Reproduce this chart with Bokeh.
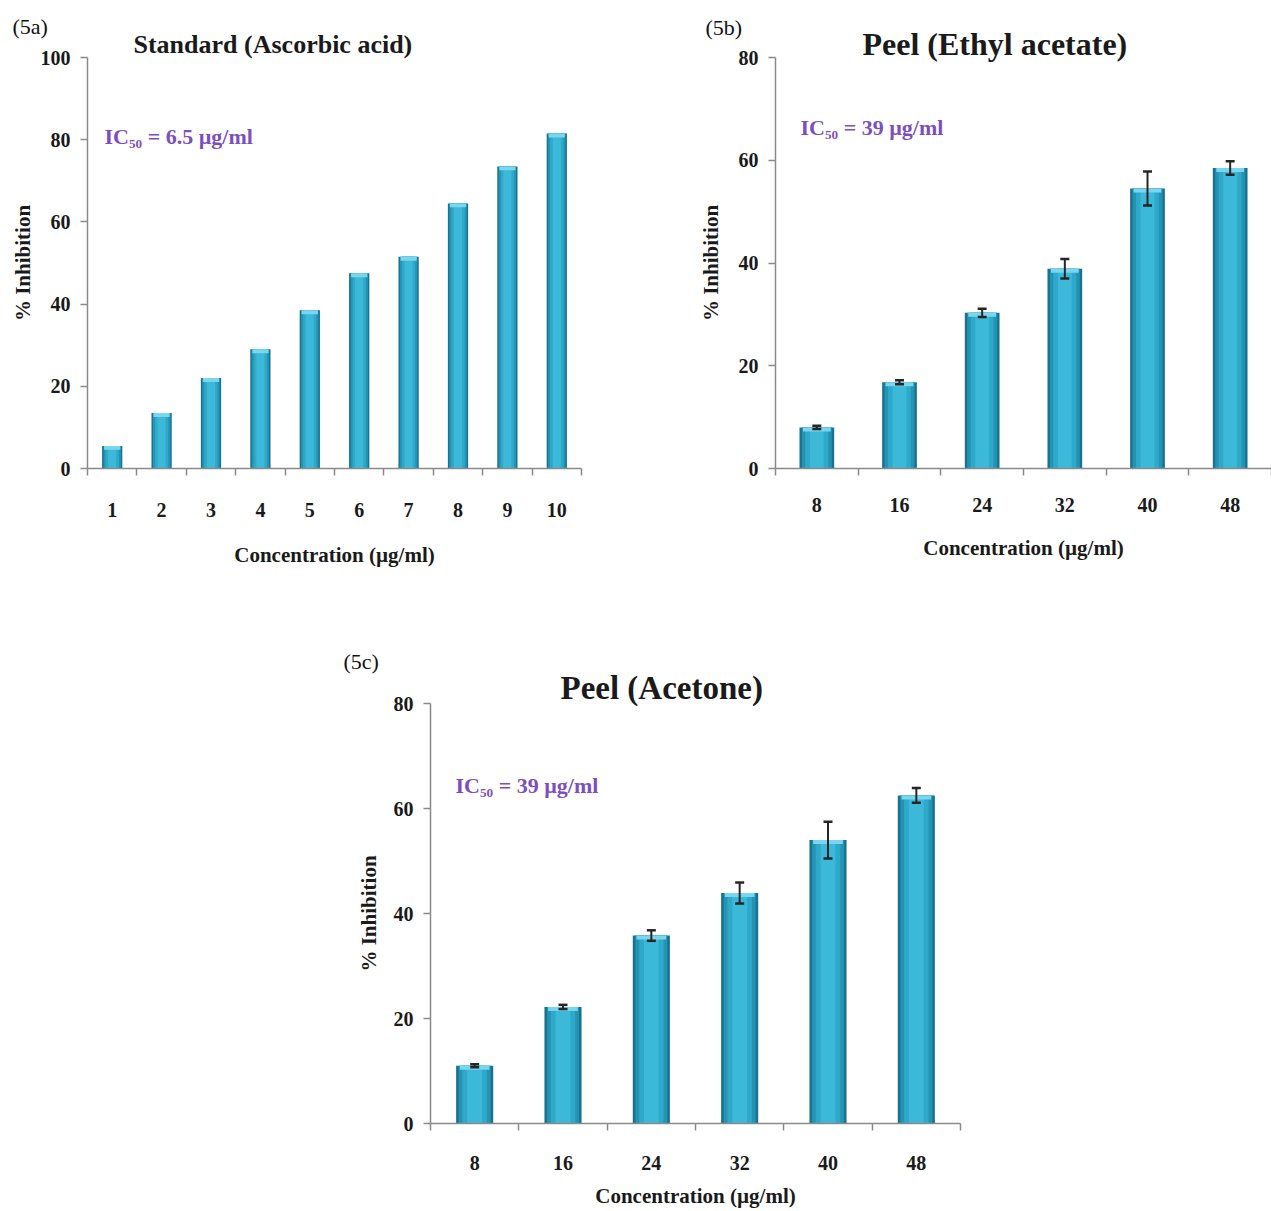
from bokeh.plotting import figure
from bokeh.models import ColumnDataSource, Whisker, TeeHead, FixedTicker, Label, Range1d, Spacer, Title
from bokeh.layouts import row, column
from bokeh.embed import file_html
from bokeh.resources import INLINE

# ---------------- data ----------------
conc_a = [1, 2, 3, 4, 5, 6, 7, 8, 9, 10]
inhib_a = [5.5, 13.5, 22.0, 29.0, 38.5, 47.5, 51.5, 64.5, 73.5, 81.5]

conc_b = [8, 16, 24, 32, 40, 48]
inhib_b = [8.0, 16.8, 30.3, 38.9, 54.5, 58.5]
err_b = [0.3, 0.4, 0.8, 1.9, 3.3, 1.3]

conc_c = [8, 16, 24, 32, 40, 48]
inhib_c = [11.0, 22.2, 35.8, 43.9, 54.0, 62.5]
err_c = [0.3, 0.4, 1.0, 2.0, 3.5, 1.4]

yticks_a = [0, 20, 40, 60, 80, 100]
yticks_bc = [0, 20, 40, 60, 80]

title_a = "Standard (Ascorbic acid)"
title_b = "Peel (Ethyl acetate)"
title_c = "Peel (Acetone)"
tag_a, tag_b, tag_c = "(5a)", "(5b)", "(5c)"
ic_a = "IC\u2085\u2080 = 6.5 \u00b5g/ml"
ic_b = "IC\u2085\u2080 = 39 \u00b5g/ml"
ic_c = "IC\u2085\u2080 = 39 \u00b5g/ml"
xlabel = "Concentration (\u00b5g/ml)"
ylabel = "% Inhibition"

SERIF = "Liberation Serif"
BAR_LAYERS = [(1.0, "#19728e"), (0.86, "#2494b4"), (0.66, "#2fa9c9"), (0.40, "#3cb9d9")]
CAP_COLOR = "#7ad6ee"
PURPLE = "#7d4fbd"
AXIS_GRAY = "#8a8a8a"
INK = "#1a1a1a"


def panel(conc, vals, errs, step, ymax, yticks, W, H, L, R, T, B,
          title, title_left, title_size, title_standoff,
          tag, tag_left, tag_standoff, ic, ic_xy,
          tick_size, lab_size, tick_standoff_x, lab_standoff_x, ylab_standoff, bar_frac):
    fw = W - L - R
    fh = H - T - B
    x0 = conc[0] - step / 2.0
    x1 = conc[-1] + step / 2.0

    def to_x(px):
        return x0 + (px - L) / fw * (x1 - x0)

    def to_y(py):
        return ymax * (1 - (py - T) / fh)

    p = figure(width=W, height=H, x_range=Range1d(x0, x1), y_range=Range1d(0, ymax),
               output_backend="svg", toolbar_location=None, title=None,
               min_border_left=L, min_border_right=R, min_border_top=T, min_border_bottom=B)
    p.outline_line_color = None
    p.xgrid.visible = False
    p.ygrid.visible = False
    p.background_fill_color = "white"
    p.border_fill_color = "white"

    src = ColumnDataSource(dict(x=conc, top=vals))
    w = bar_frac * step
    for frac, col in BAR_LAYERS:
        p.vbar(x="x", top="top", bottom=0, width=w * frac, source=src,
               fill_color=col, line_color=None)
    cap_h = ymax * 4.0 / fh
    cap_src = ColumnDataSource(dict(x=conc, top=vals, bot=[v - cap_h for v in vals]))
    p.vbar(x="x", top="top", bottom="bot", width=w * 0.8, source=cap_src,
           fill_color=CAP_COLOR, line_color=None)

    if errs is not None:
        esrc = ColumnDataSource(dict(x=conc, upper=[v + e for v, e in zip(vals, errs)],
                                     lower=[v - e for v, e in zip(vals, errs)]))
        wk = Whisker(base="x", upper="upper", lower="lower", source=esrc,
                     line_color="#262626", line_width=2, level="overlay",
                     upper_head=TeeHead(size=9, line_color="#262626", line_width=2.5),
                     lower_head=TeeHead(size=9, line_color="#262626", line_width=2.5))
        p.add_layout(wk)

    # x axis: labels at the centres, ticks at the category boundaries
    bounds = [conc[0] - step / 2.0] + [(a + b) / 2.0 for a, b in zip(conc[:-1], conc[1:])] + [conc[-1] + step / 2.0]
    xa = p.xaxis[0]
    xa.ticker = FixedTicker(ticks=conc, minor_ticks=bounds)
    xa.major_tick_out = 0
    xa.major_tick_in = 0
    xa.minor_tick_out = 7
    xa.minor_tick_in = 0
    xa.minor_tick_line_color = AXIS_GRAY
    xa.minor_tick_line_width = 1.5
    xa.axis_line_color = AXIS_GRAY
    xa.axis_line_width = 1.5
    xa.major_label_text_font = SERIF
    xa.major_label_text_font_style = "bold"
    xa.major_label_text_font_size = f"{tick_size}px"
    xa.major_label_text_color = INK
    xa.major_label_standoff = tick_standoff_x
    xa.axis_label = xlabel
    xa.axis_label_text_font = SERIF
    xa.axis_label_text_font_style = "bold"
    xa.axis_label_text_font_size = f"{lab_size}px"
    xa.axis_label_text_color = INK
    xa.axis_label_standoff = lab_standoff_x

    ya = p.yaxis[0]
    ya.ticker = FixedTicker(ticks=yticks, minor_ticks=[])
    ya.major_tick_out = 7
    ya.major_tick_in = 0
    ya.major_tick_line_color = AXIS_GRAY
    ya.major_tick_line_width = 1.5
    ya.minor_tick_out = 0
    ya.minor_tick_in = 0
    ya.axis_line_color = AXIS_GRAY
    ya.axis_line_width = 1.5
    ya.major_label_text_font = SERIF
    ya.major_label_text_font_style = "bold"
    ya.major_label_text_font_size = f"{tick_size}px"
    ya.major_label_text_color = INK
    ya.major_label_standoff = 10
    ya.axis_label = ylabel
    ya.axis_label_text_font = SERIF
    ya.axis_label_text_font_style = "bold"
    ya.axis_label_text_font_size = f"{lab_size}px"
    ya.axis_label_text_color = INK
    ya.axis_label_standoff = ylab_standoff

    # main title (closest to the frame), then the panel tag above it
    p.add_layout(Title(text=title, align="left", offset=title_left - L,
                       text_font=SERIF, text_font_style="bold",
                       text_font_size=f"{title_size}px", text_color=INK,
                       standoff=title_standoff), "above")
    p.add_layout(Title(text=tag, align="left", offset=tag_left - L,
                       text_font=SERIF, text_font_style="normal",
                       text_font_size="22px", text_color="#111111",
                       standoff=tag_standoff), "above")

    p.add_layout(Label(x=to_x(ic_xy[0]), y=to_y(ic_xy[1]), text=ic,
                       text_font=SERIF, text_font_style="bold", text_font_size="22px",
                       text_color=PURPLE, text_align="left", text_baseline="middle"))
    return p


p1 = panel(conc_a, inhib_a, None, 1.0, 100, yticks_a,
           W=660, H=620, L=87, R=79, T=57, B=143,
           title=title_a, title_left=133, title_size=26, title_standoff=-2,
           tag=tag_a, tag_left=12, tag_standoff=-20, ic=ic_a, ic_xy=(104, 138),
           tick_size=20, lab_size=21, tick_standoff_x=27, lab_standoff_x=23,
           ylab_standoff=3, bar_frac=0.41)

p2 = panel(conc_b, inhib_b, err_b, 8.0, 80, yticks_bc,
           W=611, H=620, L=115, R=0, T=57, B=152,
           title=title_b, title_left=862 - 660, title_size=32, title_standoff=-8,
           tag=tag_b, tag_left=705 - 660, tag_standoff=-24, ic=ic_b, ic_xy=(800 - 660, 127),
           tick_size=20, lab_size=21, tick_standoff_x=22, lab_standoff_x=21,
           ylab_standoff=13, bar_frac=0.42)

p3 = panel(conc_c, inhib_c, err_c, 8.0, 80, yticks_bc,
           W=670, H=591, L=90, R=50, T=83, B=88,
           title=title_c, title_left=560 - 340, title_size=33, title_standoff=-4,
           tag=tag_c, tag_left=343 - 340, tag_standoff=-8, ic=ic_c, ic_xy=(455 - 340, 785 - 620),
           tick_size=20, lab_size=21, tick_standoff_x=25, lab_standoff_x=11,
           ylab_standoff=10, bar_frac=0.42)

layout = column(row(p1, p2, spacing=0), row(Spacer(width=340, height=591), p3, spacing=0), spacing=0)

open("out.html", "w").write(file_html(layout, INLINE))
